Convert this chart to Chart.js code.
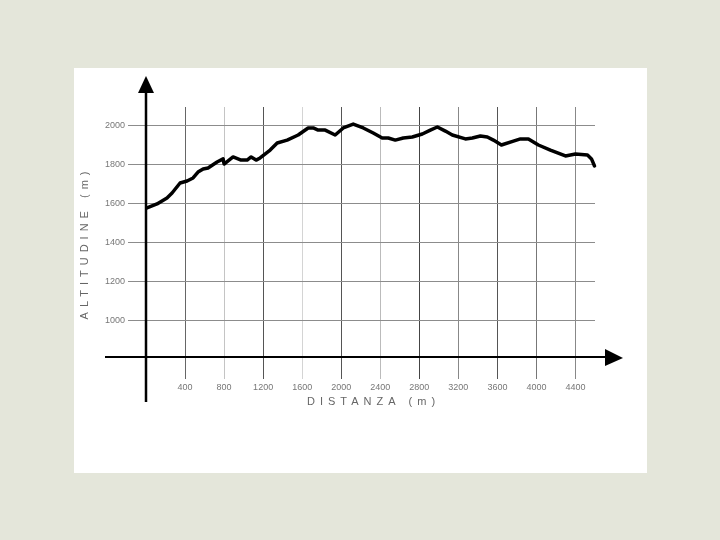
<!DOCTYPE html>
<html>
<head>
<meta charset="utf-8">
<style>
html,body{margin:0;padding:0;width:720px;height:540px;background:#e4e6da;overflow:hidden}
#panel{position:absolute;left:74px;top:68px;width:573px;height:405px;background:#fff}
canvas{display:block}
</style>
<script src="https://cdn.jsdelivr.net/npm/chart.js@4"></script>
</head>
<body>
<div id="panel"><canvas id="c" width="573" height="405"></canvas></div>
<script>
const distance = [10,113,215,267,349,421,482,533,585,636,728,790,800,892,974,1036,1077,1128,1169,1272,1344,1446,1559,1661,1713,1764,1836,1938,2021,2123,2226,2328,2420,2482,2554,2636,2728,2831,2913,2985,3067,3138,3272,3344,3426,3497,3559,3641,3764,3836,3918,4020,4143,4297,4400,4523,4564,4595];
const altitude = [1577,1597,1628,1653,1704,1714,1730,1760,1776,1781,1811,1827,1801,1837,1821,1821,1837,1821,1832,1872,1908,1923,1949,1985,1985,1974,1974,1949,1985,2005,1985,1959,1934,1934,1923,1934,1939,1954,1974,1990,1969,1949,1929,1934,1944,1939,1923,1898,1918,1929,1929,1898,1872,1842,1852,1847,1827,1791];
const xTicks = [400,800,1200,1600,2000,2400,2800,3200,3600,4000,4400];
const yTicks = [1000,1200,1400,1600,1800,2000];
const xTitle = 'DISTANZA (m)';
const yTitle = 'ALTITUDINE (m)';
const xGridColors = ['#666','#c4c4c4','#555','#d4d4d4','#555','#bbb','#444','#888','#555','#777','#888'];

const axisArrows = {
  id:'axisArrows',
  afterDraw(chart){
    const {ctx,chartArea:a} = chart;
    const x0 = chart.scales.x.getPixelForValue(0);
    const y0 = chart.scales.y.bottom;
    ctx.save();
    ctx.strokeStyle='#000';ctx.fillStyle='#000';ctx.lineCap='butt';
    ctx.lineWidth=2.5;
    ctx.beginPath();ctx.moveTo(x0,a.bottom+45);ctx.lineTo(x0,a.top-20);ctx.stroke();
    ctx.lineWidth=2;
    ctx.beginPath();ctx.moveTo(a.left-41,y0);ctx.lineTo(a.right+15,y0);ctx.stroke();
    ctx.beginPath();ctx.moveTo(x0,a.top-31);ctx.lineTo(x0-8,a.top-14);ctx.lineTo(x0+8,a.top-14);ctx.closePath();ctx.fill();
    ctx.beginPath();ctx.moveTo(a.right+28,y0+1);ctx.lineTo(a.right+10,y0-8);ctx.lineTo(a.right+10,y0+9);ctx.closePath();ctx.fill();
    ctx.fillStyle='#666';
    ctx.font='11px "Liberation Sans"';
    ctx.textAlign='center';ctx.textBaseline='middle';
    ctx.letterSpacing='5px';
    ctx.fillText(xTitle,(a.left+a.right)/2+3,a.bottom+45);
    ctx.translate(11,175);ctx.rotate(-Math.PI/2);
    ctx.letterSpacing='5px';
    ctx.fillText(yTitle,0,0);
    ctx.restore();
  }
};

new Chart(document.getElementById('c'),{
  type:'line',
  data:{datasets:[{
    data:distance.map((d,i)=>({x:d,y:altitude[i]})),
    borderColor:'#000',borderWidth:3.5,pointRadius:0,tension:0,fill:false,borderJoinStyle:'round',borderCapStyle:'round',clip:false
  }]},
  options:{
    responsive:false,animation:false,
    layout:{padding:{left:0,top:39,right:52,bottom:0}},
    plugins:{legend:{display:false},tooltip:{enabled:false},title:{display:false}},
    scales:{
      x:{
        type:'linear',min:0,max:4600,
        afterBuildTicks(s){s.ticks=xTicks.map(v=>({value:v}));},
        afterFit(s){s.height=116;},
        border:{display:false},
        grid:{color:c=>xGridColors[c.index]||'#888',lineWidth:1,drawTicks:true,tickLength:22},
        ticks:{autoSkip:false,maxRotation:0,minRotation:0,padding:3,color:'#777',font:{family:'Liberation Sans',size:9},callback:v=>String(v)}
      },
      y:{
        type:'linear',min:816,max:2092,
        afterBuildTicks(s){s.ticks=yTicks.map(v=>({value:v}));},
        afterFit(s){s.width=72;},
        border:{display:false},
        grid:{color:'#8c8c8c',lineWidth:1,drawTicks:true,tickLength:18},
        ticks:{autoSkip:false,padding:3,color:'#777',font:{family:'Liberation Sans',size:9},callback:v=>String(v)}
      }
    }
  },
  plugins:[axisArrows]
});
</script>
</body>
</html>
